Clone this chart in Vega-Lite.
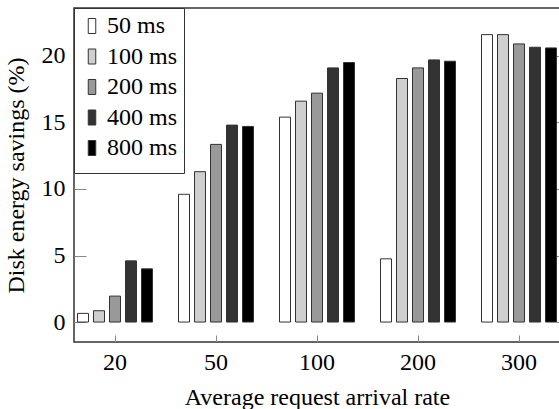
{
  "$schema": "https://vega.github.io/schema/vega-lite/v6.json",
  "autosize": {"type": "none"},
  "padding": {"left": 74, "top": 8, "right": -9, "bottom": 67},
  "width": 494,
  "height": 334,
  "background": "white",
  "config": {
    "font": "Liberation Serif",
    "view": {"stroke": "#333333", "strokeWidth": 1.5},
    "axis": {
      "labelFont": "Liberation Serif",
      "titleFont": "Liberation Serif",
      "labelFontSize": 24,
      "titleFontSize": 24,
      "labelColor": "black",
      "titleColor": "black",
      "titleFontWeight": "normal",
      "grid": false,
      "domain": false,
      "tickColor": "#888888",
      "tickWidth": 1
    },
    "legend": {
      "labelFont": "Liberation Serif",
      "labelFontSize": 24,
      "labelColor": "black"
    }
  },
  "data": {
    "values": [
      {"rate": "20", "interval": "50 ms", "savings": 0.65},
      {"rate": "20", "interval": "100 ms", "savings": 0.85},
      {"rate": "20", "interval": "200 ms", "savings": 1.95},
      {"rate": "20", "interval": "400 ms", "savings": 4.6},
      {"rate": "20", "interval": "800 ms", "savings": 4.0},
      {"rate": "50", "interval": "50 ms", "savings": 9.6},
      {"rate": "50", "interval": "100 ms", "savings": 11.3},
      {"rate": "50", "interval": "200 ms", "savings": 13.35},
      {"rate": "50", "interval": "400 ms", "savings": 14.8},
      {"rate": "50", "interval": "800 ms", "savings": 14.7},
      {"rate": "100", "interval": "50 ms", "savings": 15.4},
      {"rate": "100", "interval": "100 ms", "savings": 16.6},
      {"rate": "100", "interval": "200 ms", "savings": 17.2},
      {"rate": "100", "interval": "400 ms", "savings": 19.1},
      {"rate": "100", "interval": "800 ms", "savings": 19.5},
      {"rate": "200", "interval": "50 ms", "savings": 4.75},
      {"rate": "200", "interval": "100 ms", "savings": 18.3},
      {"rate": "200", "interval": "200 ms", "savings": 19.1},
      {"rate": "200", "interval": "400 ms", "savings": 19.7},
      {"rate": "200", "interval": "800 ms", "savings": 19.6},
      {"rate": "300", "interval": "50 ms", "savings": 21.6},
      {"rate": "300", "interval": "100 ms", "savings": 21.6},
      {"rate": "300", "interval": "200 ms", "savings": 20.9},
      {"rate": "300", "interval": "400 ms", "savings": 20.65},
      {"rate": "300", "interval": "800 ms", "savings": 20.6}
    ]
  },
  "encoding": {
    "x": {
      "field": "rate",
      "type": "nominal",
      "sort": ["20", "50", "100", "200", "300"],
      "scale": {"range": [-9.5, 495.5], "paddingInner": 0, "paddingOuter": 0},
      "axis": {
        "title": "Average request arrival rate",
        "labelAngle": 0,
        "tickSize": -7,
        "labelPadding": 15,
        "titlePadding": 11
      }
    },
    "y": {
      "field": "savings",
      "type": "quantitative",
      "scale": {"domain": [-1.5, 23.6], "nice": false, "zero": false}
    }
  },
  "layer": [
    {
      "mark": {"type": "bar", "stroke": "#333333", "strokeWidth": 1},
      "encoding": {
        "xOffset": {
          "field": "interval",
          "type": "nominal",
          "sort": ["50 ms", "100 ms", "200 ms", "400 ms", "800 ms"],
          "scale": {"paddingInner": 0.3125, "paddingOuter": 0.8125}
        },
        "y": {
          "field": "savings",
          "type": "quantitative",
          "scale": {"domain": [-1.5, 23.6], "nice": false, "zero": false},
          "axis": {
            "title": "Disk energy savings (%)",
            "values": [0, 5, 10, 15, 20],
            "tickSize": -12,
            "labelPadding": 21,
            "titlePadding": 13
          }
        },
        "color": {
          "field": "interval",
          "type": "nominal",
          "sort": ["50 ms", "100 ms", "200 ms", "400 ms", "800 ms"],
          "scale": {
            "domain": ["50 ms", "100 ms", "200 ms", "400 ms", "800 ms"],
            "range": ["#ffffff", "#cfcfcf", "#999999", "#333333", "#000000"]
          },
          "legend": {
            "title": " ",
            "titleOrient": "bottom",
            "titleFontSize": 1,
            "titlePadding": 6,
            "orient": "top-left",
            "offset": 0,
            "fillColor": "white",
            "strokeColor": "#333333",
            "padding": 6,
            "symbolType": "M-0.5,-1H0.5V1H-0.5Z",
            "symbolSize": 225,
            "symbolStrokeColor": "#333333",
            "symbolStrokeWidth": 1,
            "symbolOpacity": 1,
            "labelOffset": 3,
            "rowPadding": 6.5
          }
        }
      }
    },
    {
      "mark": {"type": "rule", "opacity": 0},
      "encoding": {
        "y": {
          "field": "savings",
          "type": "quantitative",
          "scale": {"domain": [-1.5, 23.6], "nice": false, "zero": false},
          "axis": {
            "orient": "right",
            "title": null,
            "labels": false,
            "values": [0, 5, 10, 15, 20],
            "tickSize": -12
          }
        }
      }
    }
  ],
  "resolve": {"axis": {"y": "independent"}}
}
